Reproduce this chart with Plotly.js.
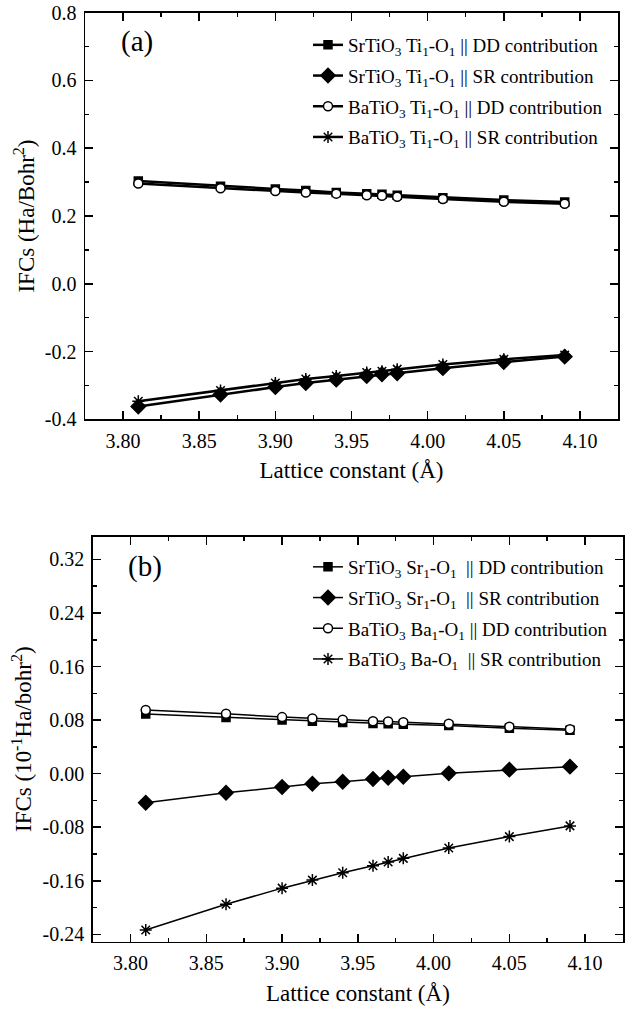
<!DOCTYPE html>
<html>
<head>
<meta charset="utf-8">
<script src="https://cdn.plot.ly/plotly-3.0.1.min.js"></script>
<style>html,body{margin:0;padding:0;background:#fff;}#chart{width:637px;height:1010px;}</style>
</head>
<body>
<div id="chart"></div>
<script>
// Lattice constants (Å)
const latticeA = [3.81, 3.864, 3.90, 3.92, 3.94, 3.96, 3.97, 3.98, 4.01, 4.05, 4.09];
const latticeB = [3.81, 3.863, 3.90, 3.92, 3.94, 3.96, 3.97, 3.98, 4.01, 4.05, 4.09];

// Panel (a): Ti1-O1 IFCs (Ha/Bohr^2)
const srDD_a = [0.303, 0.288, 0.280, 0.275, 0.269, 0.266, 0.264, 0.261, 0.254, 0.247, 0.241];
const srSR_a = [-0.362, -0.327, -0.305, -0.293, -0.283, -0.272, -0.267, -0.264, -0.249, -0.231, -0.215];
const baDD_a = [0.296, 0.282, 0.274, 0.269, 0.266, 0.261, 0.260, 0.257, 0.250, 0.242, 0.236];
const baSR_a = [-0.347, -0.315, -0.293, -0.281, -0.272, -0.262, -0.258, -0.252, -0.238, -0.223, -0.210];

// Panel (b): Sr1/Ba1-O1 IFCs (10^-1 Ha/bohr^2)
const srDD_b = [0.089, 0.084, 0.080, 0.0785, 0.0765, 0.075, 0.0745, 0.074, 0.072, 0.068, 0.065];
const srSR_b = [-0.0435, -0.0285, -0.020, -0.015, -0.012, -0.008, -0.006, -0.0045, 0.0005, 0.006, 0.0105];
const baDD_b = [0.095, 0.0895, 0.0845, 0.0825, 0.0805, 0.0785, 0.078, 0.077, 0.0745, 0.070, 0.0665];
const baSR_b = [-0.2335, -0.195, -0.171, -0.159, -0.148, -0.1375, -0.132, -0.1265, -0.111, -0.094, -0.078];

// Legend names
const namesA = [
  "SrTiO<sub>3</sub> Ti<sub>1</sub>-O<sub>1</sub> || DD contribution",
  "SrTiO<sub>3</sub> Ti<sub>1</sub>-O<sub>1</sub> || SR contribution",
  "BaTiO<sub>3</sub> Ti<sub>1</sub>-O<sub>1</sub> || DD contribution",
  "BaTiO<sub>3</sub> Ti<sub>1</sub>-O<sub>1</sub> || SR contribution"
];
const namesB = [
  "SrTiO<sub>3</sub> Sr<sub>1</sub>-O<sub>1</sub>  || DD contribution",
  "SrTiO<sub>3</sub> Sr<sub>1</sub>-O<sub>1</sub>  || SR contribution",
  "BaTiO<sub>3</sub> Ba<sub>1</sub>-O<sub>1</sub> || DD contribution",
  "BaTiO<sub>3</sub> Ba-O<sub>1</sub>  || SR contribution"
];

// Tick labels
const xTickVals = [3.80, 3.85, 3.90, 3.95, 4.00, 4.05, 4.10];
const xTickText = ["3.80", "3.85", "3.90", "3.95", "4.00", "4.05", "4.10"];
const yTickValsA = [-0.4, -0.2, 0.0, 0.2, 0.4, 0.6, 0.8];
const yTickTextA = ["-0.4", "-0.2", "0.0", "0.2", "0.4", "0.6", "0.8"];
const yTickValsB = [-0.24, -0.16, -0.08, 0.00, 0.08, 0.16, 0.24, 0.32];
const yTickTextB = ["-0.24", "-0.16", "-0.08", "0.00", "0.08", "0.16", "0.24", "0.32"];

const FONT = "Liberation Serif, Times New Roman, serif";

function mk(x, y, name, sym, fill, xa, ya, leg, grp, lw, msize) {
  return {
    x: x, y: y, name: name, type: 'scatter', mode: 'lines+markers',
    xaxis: xa, yaxis: ya, legend: leg, legendgroup: grp,
    line: {color: '#000', width: lw},
    marker: {symbol: sym, size: msize, color: fill, line: {color: '#000', width: 1.5}}
  };
}

const traces = [
  mk(latticeA, srDD_a, namesA[0], 'square', '#000', 'x', 'y', 'legend', 'a1', 2.5, 8),
  mk(latticeA, srSR_a, namesA[1], 'diamond', '#000', 'x', 'y', 'legend', 'a2', 2.5, 11),
  mk(latticeA, baDD_a, namesA[2], 'circle', '#fff', 'x', 'y', 'legend', 'a3', 2.5, 9),
  mk(latticeA, baSR_a, namesA[3], 'asterisk-open', '#000', 'x', 'y', 'legend', 'a4', 2.5, 10),
  mk(latticeB, srDD_b, namesB[0], 'square', '#000', 'x2', 'y2', 'legend2', 'b1', 1.5, 8),
  mk(latticeB, srSR_b, namesB[1], 'diamond', '#000', 'x2', 'y2', 'legend2', 'b2', 1.5, 11),
  mk(latticeB, baDD_b, namesB[2], 'circle', '#fff', 'x2', 'y2', 'legend2', 'b3', 1.5, 9),
  mk(latticeB, baSR_b, namesB[3], 'asterisk-open', '#000', 'x2', 'y2', 'legend2', 'b4', 1.5, 10)
];

function xaxisDef(domain, anchor) {
  return {
    domain: domain, anchor: anchor, range: [3.775, 4.125],
    tickmode: 'array', tickvals: xTickVals, ticktext: xTickText,
    ticks: 'inside', ticklen: 8, tickwidth: 1.5, tickcolor: '#000',
    minor: {dtick: 0.025, tick0: 3.8, ticks: 'inside', ticklen: 4, tickwidth: 1.5, tickcolor: '#000'},
    showline: true, linecolor: '#000', linewidth: 1.5, mirror: 'allticks',
    showgrid: false, zeroline: false,
    ticklabelstandoff: 3,
    tickfont: {family: FONT, size: 20, color: '#000'},
    title: {text: 'Lattice constant (Å)', font: {family: FONT, size: 23, color: '#000'}, standoff: 11}
  };
}

function yaxisDef(domain, anchor, range, vals, text, minorDt, title) {
  return {
    domain: domain, anchor: anchor, range: range,
    tickmode: 'array', tickvals: vals, ticktext: text,
    ticks: 'inside', ticklen: 8, tickwidth: 1.5, tickcolor: '#000',
    minor: {dtick: minorDt, tick0: 0, ticks: 'inside', ticklen: 4, tickwidth: 1.5, tickcolor: '#000'},
    showline: true, linecolor: '#000', linewidth: 1.5, mirror: 'allticks',
    showgrid: false, zeroline: false, ticklabelstandoff: 3,
    tickfont: {family: FONT, size: 20, color: '#000'},
    title: {text: title, font: {family: FONT, size: 23, color: '#000'}, standoff: 4}
  };
}

const legendCommon = {
  xanchor: 'left', yanchor: 'top',
  bgcolor: 'rgba(0,0,0,0)', borderwidth: 0,
  font: {family: FONT, size: 19, color: '#000'}, tracegroupgap: 3
};

const layout = {
  width: 637, height: 1010,
  margin: {l: 0, r: 0, t: 0, b: 0},
  paper_bgcolor: '#fff', plot_bgcolor: '#fff',
  showlegend: true,
  xaxis: xaxisDef([85/637, 618/637], 'y'),
  xaxis2: xaxisDef([92.7/637, 623/637], 'y2'),
  yaxis: yaxisDef([1 - 419.3/1010, 1 - 12.7/1010], 'x', [-0.4, 0.8], yTickValsA, yTickTextA, 0.1,
                  'IFCs (Ha/Bohr<sup>2</sup>)'),
  yaxis2: yaxisDef([1 - 941.7/1010, 1 - 536.7/1010], 'x2', [-0.251, 0.354], yTickValsB, yTickTextB, 0.04,
                   'IFCs (10<sup>-1</sup>Ha/bohr<sup>2</sup>)'),
  legend: Object.assign({x: 308/637, y: 1 - 26/1010}, legendCommon),
  legend2: Object.assign({x: 308/637, y: 1 - 548/1010}, legendCommon),
  annotations: [
    {text: '(a)', xref: 'paper', yref: 'paper', x: 137/637, y: 1 - 41/1010, showarrow: false,
     xanchor: 'center', yanchor: 'middle', font: {family: FONT, size: 29, color: '#000'}},
    {text: '(b)', xref: 'paper', yref: 'paper', x: 145/637, y: 1 - 566/1010, showarrow: false,
     xanchor: 'center', yanchor: 'middle', font: {family: FONT, size: 29, color: '#000'}}
  ]
};

Plotly.newPlot('chart', traces, layout, {displayModeBar: false, staticPlot: true});
</script>
</body>
</html>
